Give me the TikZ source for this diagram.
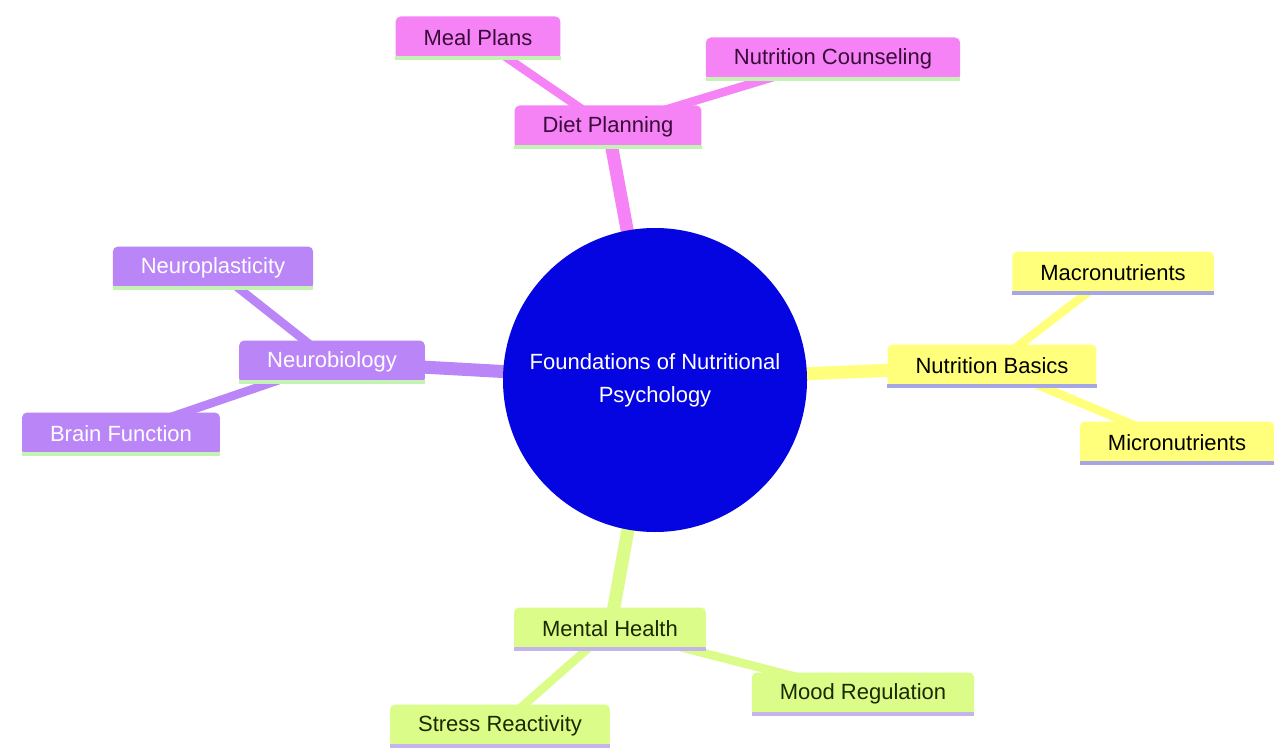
\documentclass[tikz,border=0pt]{standalone}
\usepackage{fontspec}
\setmainfont{Liberation Sans}
\usetikzlibrary{backgrounds}
\definecolor{cpink}{HTML}{F583F5}
\definecolor{cpurple}{HTML}{BA85F7}
\definecolor{cyellow}{HTML}{FFFF7B}
\definecolor{clime}{HTML}{DBFC88}
\definecolor{croot}{HTML}{0505E2}
\definecolor{lgreen}{HTML}{C4F2B4}
\definecolor{lblue}{HTML}{A6A6E6}
\definecolor{llav}{HTML}{C4B4EC}
\definecolor{tpink}{HTML}{3A0A3A}
\definecolor{tlime}{HTML}{1A2A00}
\tikzset{
  box/.style={rectangle, rounded corners=5pt, minimum height=43pt, inner xsep=28pt, inner ysep=0pt,
    font=\fontsize{22}{26}\selectfont},
  pinkbox/.style={box, fill=cpink, text=tpink},
  purplebox/.style={box, fill=cpurple, text=white},
  yellowbox/.style={box, fill=cyellow, text=black},
  limebox/.style={box, fill=clime, text=tlime},
  botline/.style={line width=4pt},
  trunk/.style={line width=13pt},
  twig/.style={line width=8.5pt},
}
\begin{document}
\begin{tikzpicture}[x=1pt,y=-1pt]
\useasboundingbox (0,0) rectangle (1274,749);
% root
\node[circle, fill=croot, minimum size=304pt, inner sep=0pt, text=white, align=center,
      font=\fontsize{22}{33}\selectfont] (root) at (655,380) {Foundations of Nutritional\\Psychology};
% children
\node[pinkbox] (dp) at (608,127) {Diet Planning};
\node[pinkbox] (mp) at (478,38) {Meal Plans};
\node[pinkbox] (nc) at (833,59) {Nutrition Counseling};
\node[purplebox] (nb) at (332,362) {Neurobiology};
\node[purplebox] (np) at (213,268) {Neuroplasticity};
\node[purplebox] (bf) at (121,434) {Brain Function};
\node[yellowbox] (nba) at (992,366) {Nutrition Basics};
\node[yellowbox] (mac) at (1113,273) {Macronutrients};
\node[yellowbox] (mic) at (1177,443) {Micronutrients};
\node[limebox] (mh) at (610,629) {Mental Health};
\node[limebox] (mr) at (863,694) {Mood Regulation};
\node[limebox] (sr) at (500,726) {Stress Reactivity};
% bottom lines
\foreach \n/\c in {dp/lgreen, mp/lgreen, nc/lgreen, nb/lgreen, np/lgreen, bf/lgreen,
                   nba/lblue, mac/lblue, mic/lblue, mh/llav, mr/llav, sr/llav}{
  \draw[botline, \c] ([yshift=2pt]\n.south west) -- ([yshift=2pt]\n.south east);
}
% edges
\begin{pgfonlayer}{background}
\fill[white] (0,0) rectangle (1274,749);
\draw[trunk, cpink] (root.center) -- (dp.center);
\draw[twig, cpink] (dp.center) -- (mp.center);
\draw[twig, cpink] (dp.center) -- (nc.center);
\draw[trunk, cpurple] (root.center) -- (nb.center);
\draw[twig, cpurple] (nb.center) -- (np.center);
\draw[twig, cpurple] (nb.center) -- (bf.center);
\draw[trunk, cyellow] (root.center) -- (nba.center);
\draw[twig, cyellow] (nba.center) -- (mac.center);
\draw[twig, cyellow] (nba.center) -- (mic.center);
\draw[trunk, clime] (root.center) -- (mh.center);
\draw[twig, clime] (mh.center) -- (mr.center);
\draw[twig, clime] (mh.center) -- (sr.center);
\end{pgfonlayer}
\end{tikzpicture}
\end{document}
